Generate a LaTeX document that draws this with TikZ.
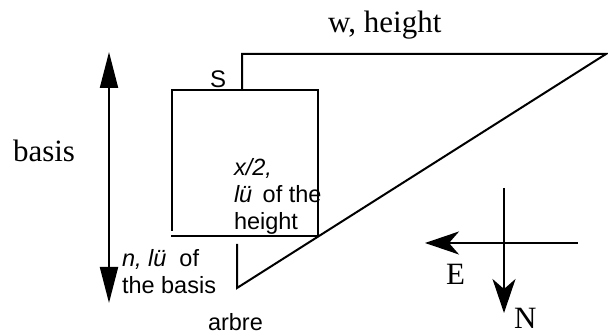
\documentclass[tikz,border=0pt]{standalone}
\usepackage{fontspec}
\setmainfont{Liberation Serif}
\setsansfont{Liberation Sans}
\usetikzlibrary{arrows.meta}

\tikzset{
  serlabel/.style={font=\fontsize{31}{33}\selectfont\rmfamily,inner sep=0pt},
  sanslabel/.style={font=\fontsize{23.5}{27}\selectfont\sffamily,inner sep=0pt,align=left},
}

\begin{document}
\begin{tikzpicture}[x=1pt,y=-1pt,line width=2pt,line join=miter]
  \useasboundingbox (0,0) rectangle (608,336);
  % square and sloped outline
  \draw (172,231)--(172,90)--(318,90)--(318,236);
  \draw (171,236)--(318,236);
  \draw (242,90)--(242,54)--(606,54)--(237,288)--(237,244);
  % double arrow on the left
  \coordinate (basistop) at (109,52);
  \coordinate (basisbot) at (109,303);
  \draw[{Triangle[length=36pt,width=18pt]}-{Triangle[length=36pt,width=18pt]}]
    (basistop)--(basisbot);
  % compass
  \coordinate (eastfrom) at (578,243);
  \coordinate (eastto) at (425,243);
  \coordinate (northfrom) at (504,188);
  \coordinate (northto) at (504,313);
  \draw[-{Stealth[length=34pt,width=23pt,inset=10pt]}] (eastfrom)--(eastto);
  \draw[-{Stealth[length=34pt,width=23pt,inset=10pt]}] (northfrom)--(northto);
  % labels (base of a multi-line node is its last line)
  \node[serlabel,anchor=base west] (basislbl) at (12,162) {basis};
  \node[serlabel,anchor=base west] (wlbl) at (327,33) {w, height};
  \node[serlabel,anchor=base west] (elbl) at (445,285) {E};
  \node[serlabel,anchor=base west] (nlbl) at (513,329) {N};
  \node[sanslabel,font=\fontsize{24}{26}\selectfont\sffamily,anchor=base west] (slbl) at (209,88) {S};
  \node[sanslabel,anchor=base west] (xlbl) at (233,230)
    {\textit{x/2,}\\ \textit{lü}\ \,of the\\ height};
  \node[sanslabel,anchor=base west] (nlulbl) at (121,294)
    {\textit{n, lü}\ \ of\\ the basis};
  \node[sanslabel,anchor=base west] (arbrelbl) at (207,331) {arbre};
\end{tikzpicture}
\end{document}
